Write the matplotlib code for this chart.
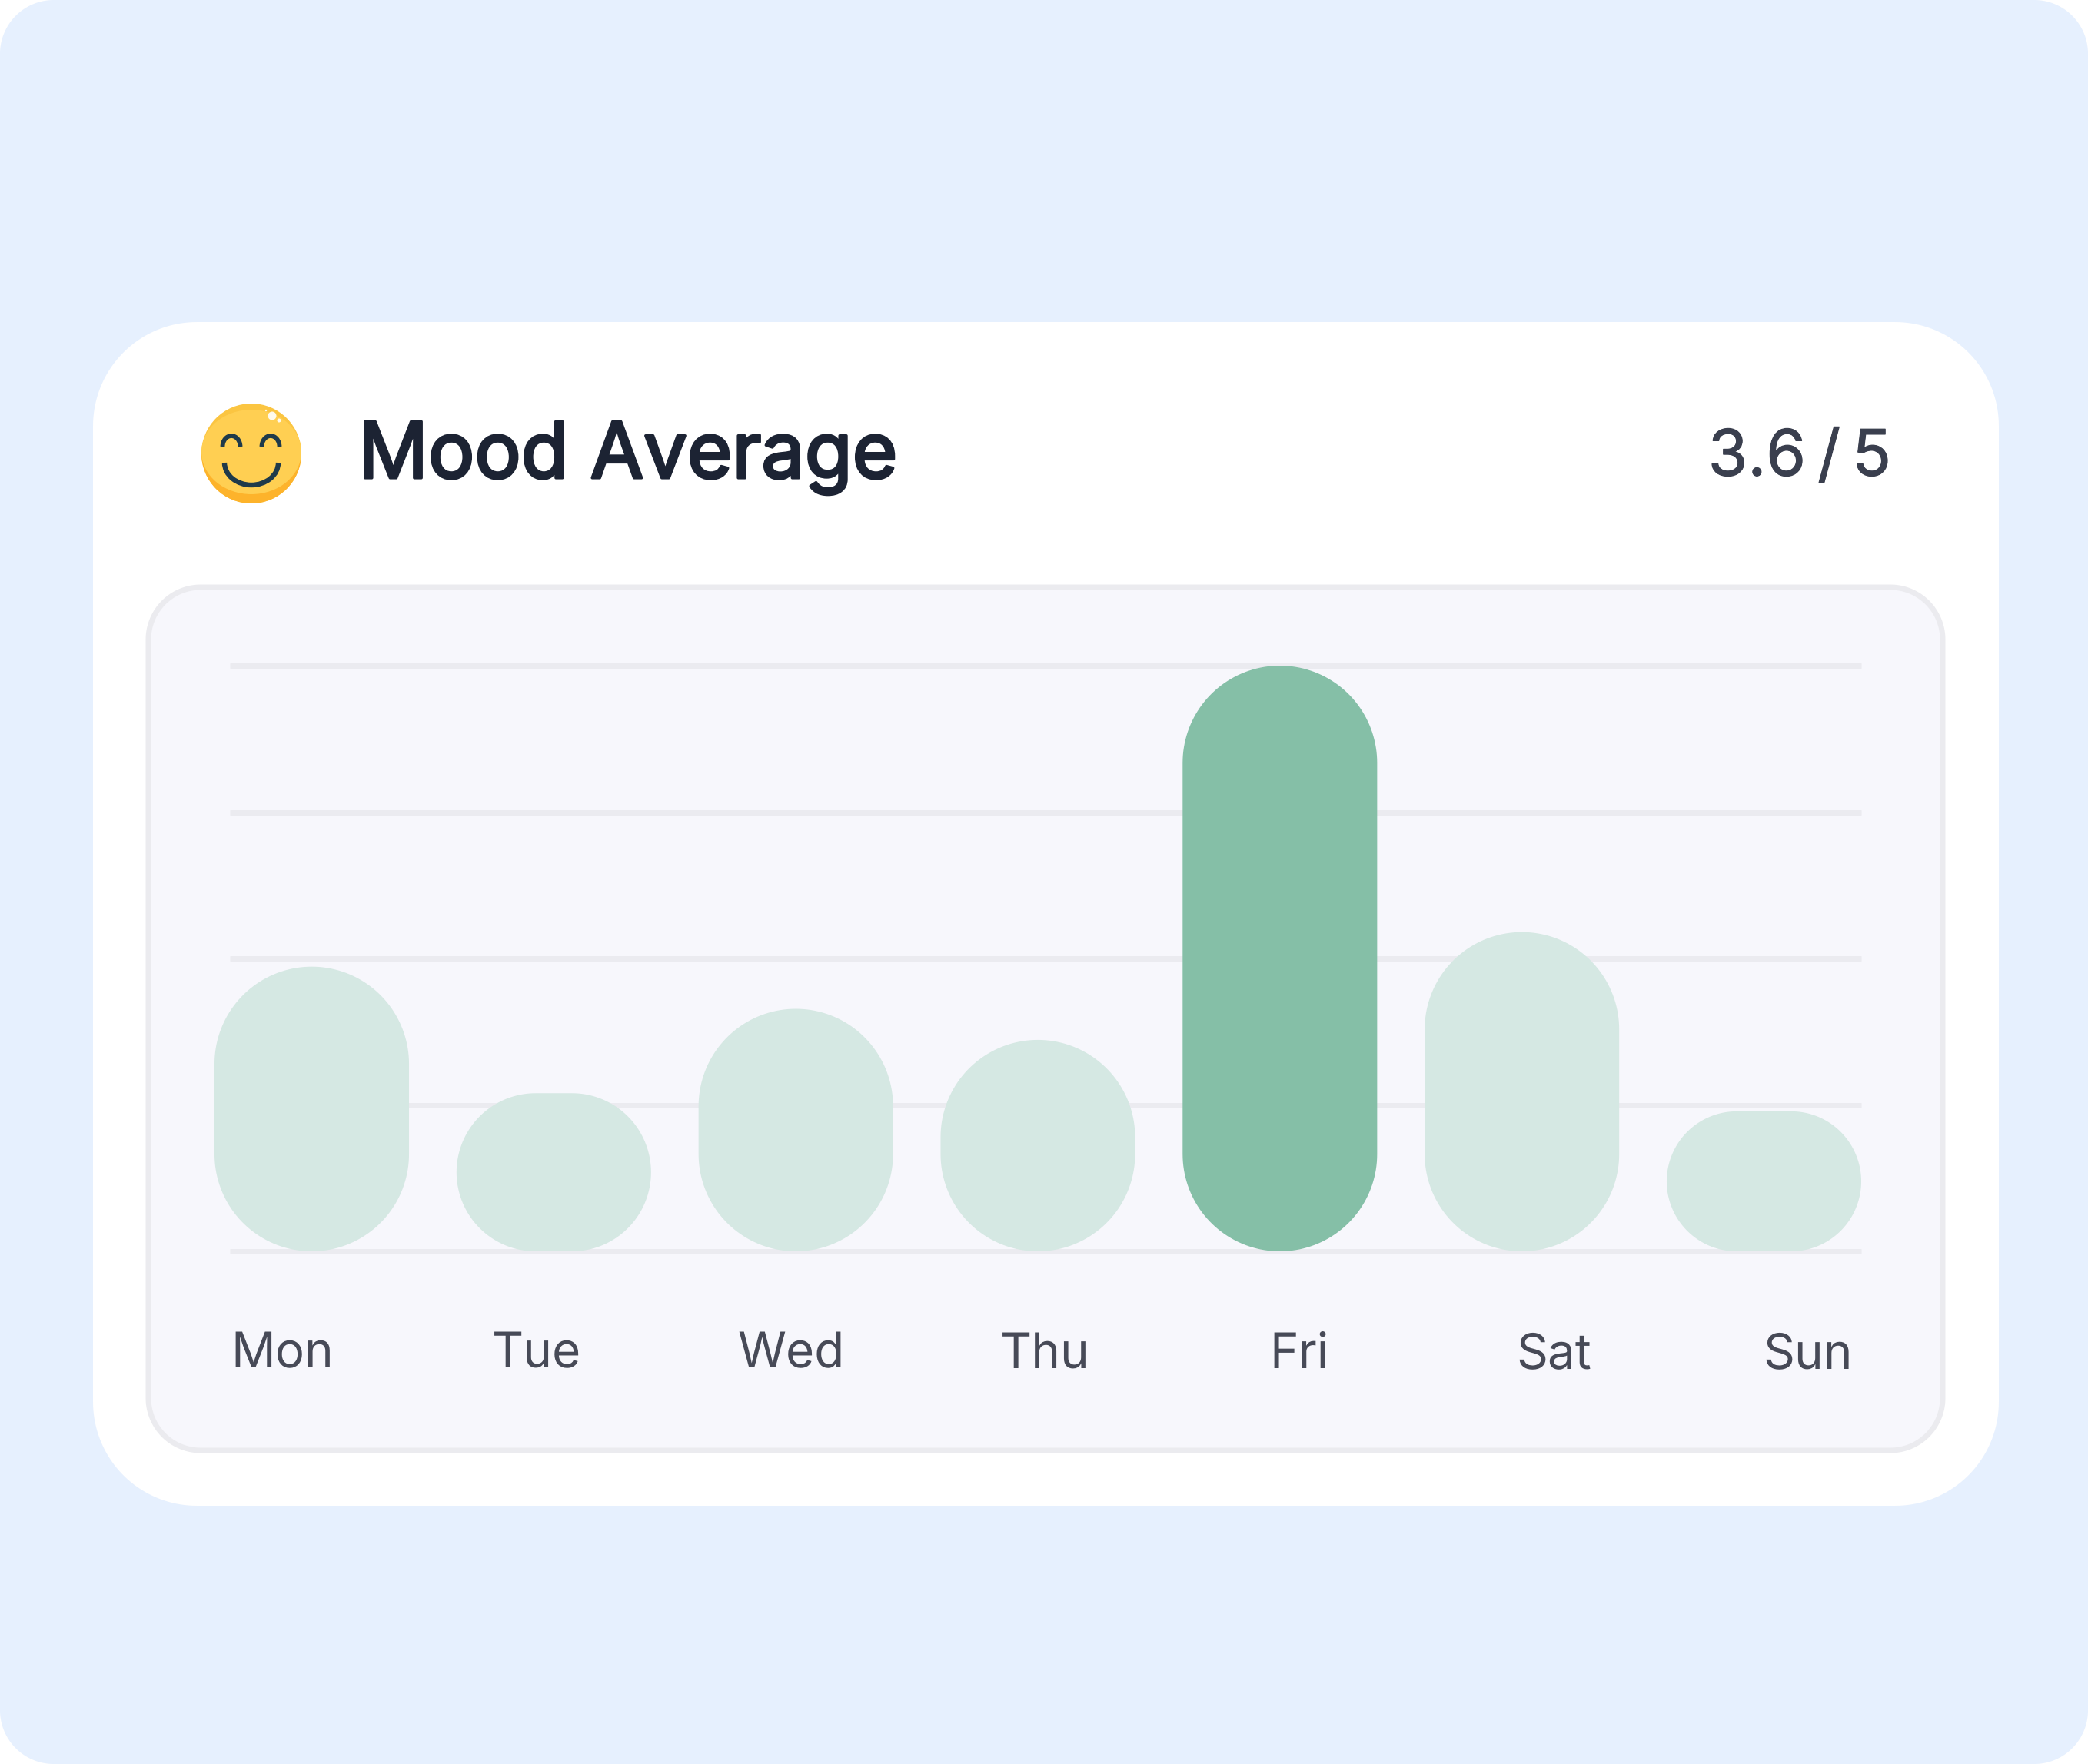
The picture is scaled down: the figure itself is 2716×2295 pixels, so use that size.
import numpy as np
import matplotlib
matplotlib.use('Agg')
import matplotlib.pyplot as plt
import matplotlib.patheffects as pe
from matplotlib.patches import Polygon, Circle, Ellipse, Wedge, Arc

plt.rcParams['text.hinting'] = 'no_hinting'

# Values (top gridline = 100)
days = ['Mon', 'Tue', 'Wed', 'Thu', 'Fri', 'Sat', 'Sun']
mood = [48.6, 27.0, 41.4, 36.1, 100.0, 54.5, 23.9]
highlight_day = 'Fri'
grid_levels = [0, 25, 50, 75, 100]
title = 'Mood Average'
score = '3.6\u2009/\u20095'

W, H = 2716, 2295
BAR_W = 253
BAR_STEP = 314.8


def corner_points(x0, y0, x1, y1, rx, ry):
    # rounded rectangle outline, as polygon points
    t = np.linspace(0, np.pi / 2, 40)
    pts = []
    pts += list(zip(x1 - rx + rx * np.cos(t), y1 - ry + ry * np.sin(t)))
    pts += list(zip(x0 + rx - rx * np.sin(t), y1 - ry + ry * np.cos(t)))
    pts += list(zip(x0 + rx - rx * np.cos(t), y0 + ry - ry * np.sin(t)))
    pts += list(zip(x1 - rx + rx * np.sin(t), y0 + ry - ry * np.cos(t)))
    return pts


fig = plt.figure(figsize=(W / 100, H / 100), dpi=100, facecolor='white')

# pixel space axes for the card, the panel, the texts and the emoji
bg = fig.add_axes([0, 0, 1, 1], zorder=0)
bg.set_xlim(0, W)
bg.set_ylim(H, 0)
bg.axis('off')

bg.add_patch(Polygon(corner_points(0, 0, W, H, 70, 70), fc='#E6F0FE', ec='none'))
bg.add_patch(Polygon(corner_points(121, 419, 2600, 1959, 135, 135), fc='white', ec='none'))
bg.add_patch(Polygon(corner_points(193, 764, 2527, 1887, 68, 68), fc='#F7F7FC', ec='#EBEBEF', lw=5))

# the reference title is a medium weight, so regular with a stroke comes closest
bg.text(466, 596, title, fontfamily='Inter', fontsize=72.5, color='#1C2333', ha='left', va='center',
        path_effects=[pe.withStroke(linewidth=2.6, foreground='#1C2333')])
bg.text(2460, 597, score, fontfamily='Inter', fontsize=60, color='#3A3F4E', ha='right', va='center',
        path_effects=[pe.withStroke(linewidth=0.8, foreground='#3A3F4E')])

for x, d in zip(np.linspace(367, 2352, len(days)), days):
    bg.text(x, 1763, d, fontfamily='Inter', fontsize=46, color='#474A57',
            ha='center', va='center')

# emoji
cx, cy, r = 327, 590, 65
bg.add_patch(Circle((cx, cy), r, fc='#FBC541', ec='none'))
bg.add_patch(Wedge((cx, cy), r, 0, 180, fc='#FDB32B', ec='none'))
bg.add_patch(Ellipse((cx, cy - 2), 2 * r, 110, fc='#FFCF52', ec='none'))
face = '#1F3A4A'
for ex in (301, 352):
    bg.add_patch(Arc((ex, 581), 23, 28, theta1=180, theta2=360, ec=face, lw=4.2))
bg.add_patch(Arc((cx, 602), 70, 58, theta1=0, theta2=180, ec=face, lw=4.6))
bg.add_patch(Circle((354, 541), 5.5, fc='#FFFFFF', ec='none', alpha=0.9))
bg.add_patch(Circle((363, 547), 2.5, fc='#FFFFFF', ec='none', alpha=0.9))
bg.add_patch(Circle((346, 534), 1.2, fc='#FFFFFF', ec='none', alpha=0.9))

# the chart itself
left, right, top, bottom = 279, 2421, 866, 1628
ax = fig.add_axes([left / W, 1 - bottom / H, (right - left) / W, (bottom - top) / H], zorder=1)
ax.patch.set_alpha(0)
half = BAR_W / BAR_STEP / 2
ax.set_xlim(-half, len(days) - 1 + half)
ax.set_ylim(0, 100)
ax.axis('off')

px_x = 1 / BAR_STEP
px_y = 100 / (bottom - top)
ax.hlines(grid_levels, -half + 20 * px_x, len(days) - 1 + half, color='#EBEBF0',
          lw=5, zorder=1, clip_on=False)

for i, (d, v) in enumerate(zip(days, mood)):
    color = '#85BFA7' if d == highlight_day else '#D5E8E3'
    # css style radius, clamped when the bar is shorter than the bar is wide
    rad = min(BAR_W / 2, v / px_y / 2)
    ax.add_patch(Polygon(corner_points(i - half, 0, i + half, v, rad * px_x, rad * px_y),
                         fc=color, ec='none', zorder=2, clip_on=False))

fig.savefig('out.png', dpi=100, facecolor='white')
